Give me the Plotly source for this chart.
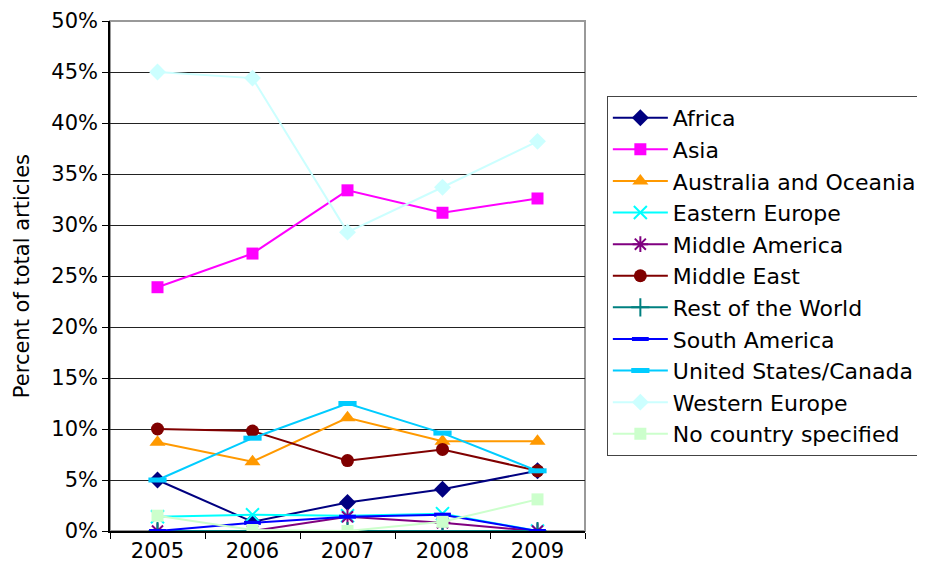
import plotly.graph_objects as go

years = ["2005", "2006", "2007", "2008", "2009"]

africa = [5.0, 0.9, 2.8, 4.1, 5.9]
asia = [23.9, 27.2, 33.4, 31.2, 32.6]
australia = [8.7, 6.8, 11.1, 8.8, 8.8]
eastern_europe = [1.4, 1.6, 1.5, 1.7, 0.0]
middle_america = [0.0, 0.0, 1.4, 0.8, 0.0]
middle_east = [10.0, 9.8, 6.9, 8.0, 5.9]
rest_world = [0.0, 0.0, 0.0, 0.0, 0.0]
south_america = [0.0, 0.8, 1.4, 1.6, 0.0]
us_canada = [5.0, 9.1, 12.5, 9.6, 5.9]
western_europe = [45.0, 44.4, 29.3, 33.7, 38.2]
no_country = [1.5, 0.1, 0.0, 0.9, 3.1]

series = [
    ("Africa", africa, "#000080", "diamond", 13, 0),
    ("Asia", asia, "#FF00FF", "square", 12, 0),
    ("Australia and Oceania", australia, "#FF9900", "triangle-up", 14, 0),
    ("Eastern Europe", eastern_europe, "#00FFFF", "x-thin-open", 13, 2),
    ("Middle America", middle_america, "#800080", "asterisk-open", 13, 2),
    ("Middle East", middle_east, "#800000", "circle", 13, 0),
    ("Rest of the World", rest_world, "#008080", "cross-thin-open", 13, 2),
    ("South America", south_america, "#0000FF", "line-ew-open", 12, 4),
    ("United States/Canada", us_canada, "#00CCFF", "line-ew-open", 13, 5),
    ("Western Europe", western_europe, "#CCFFFF", "diamond", 13, 0),
    ("No country specified", no_country, "#CCFFCC", "square", 12, 0),
]

fig = go.Figure()
for name, vals, color, sym, size, lw in series:
    fig.add_trace(go.Scatter(
        x=years, y=[v / 100 for v in vals], name=name, mode="lines+markers",
        legendgroup=name,
        line=dict(color=color, width=2),
        marker=dict(symbol=sym, size=size, color=color,
                    line=dict(color=color, width=lw)),
    ))

fig.add_shape(type="rect", xref="paper", yref="paper", x0=0, x1=1, y0=0, y1=1,
              line=dict(color="#999999", width=2), layer="below")

fig.add_annotation(text="Percent of total articles", xref="paper", yref="paper",
                   x=-0.185, y=0.5, xanchor="center", yanchor="middle",
                   textangle=-90, showarrow=False, font=dict(size=21))

fig.update_layout(
    width=925, height=573,
    margin=dict(l=102, r=348, t=13, b=50, autoexpand=False),
    paper_bgcolor="white", plot_bgcolor="white",
    font=dict(family="DejaVu Sans", size=21, color="black"),
    showlegend=True,
    legend=dict(x=1.046, y=0.853, xanchor="left", yanchor="top",
                bordercolor="#444444", borderwidth=1, bgcolor="white",
                font=dict(size=22), tracegroupgap=0, itemwidth=55),
    xaxis=dict(type="category", tickson="boundaries", ticks="outside", ticklen=6,
               tickcolor="black", showline=True, linecolor="black", linewidth=1.5,
               showgrid=False, range=[-0.5, 4.5], tickfont=dict(size=21),
               automargin=False, ticklabeloverflow="allow"),
    yaxis=dict(range=[0, 0.5], dtick=0.05, tickformat=".0%", ticks="outside",
               ticklen=6, tickcolor="black", showline=True, linecolor="black",
               linewidth=1.5, showgrid=True, gridcolor="#222222", gridwidth=1,
               zeroline=False, tickfont=dict(size=21), automargin=False,
               ticklabeloverflow="allow"),
)

fig.write_html("out.html")
